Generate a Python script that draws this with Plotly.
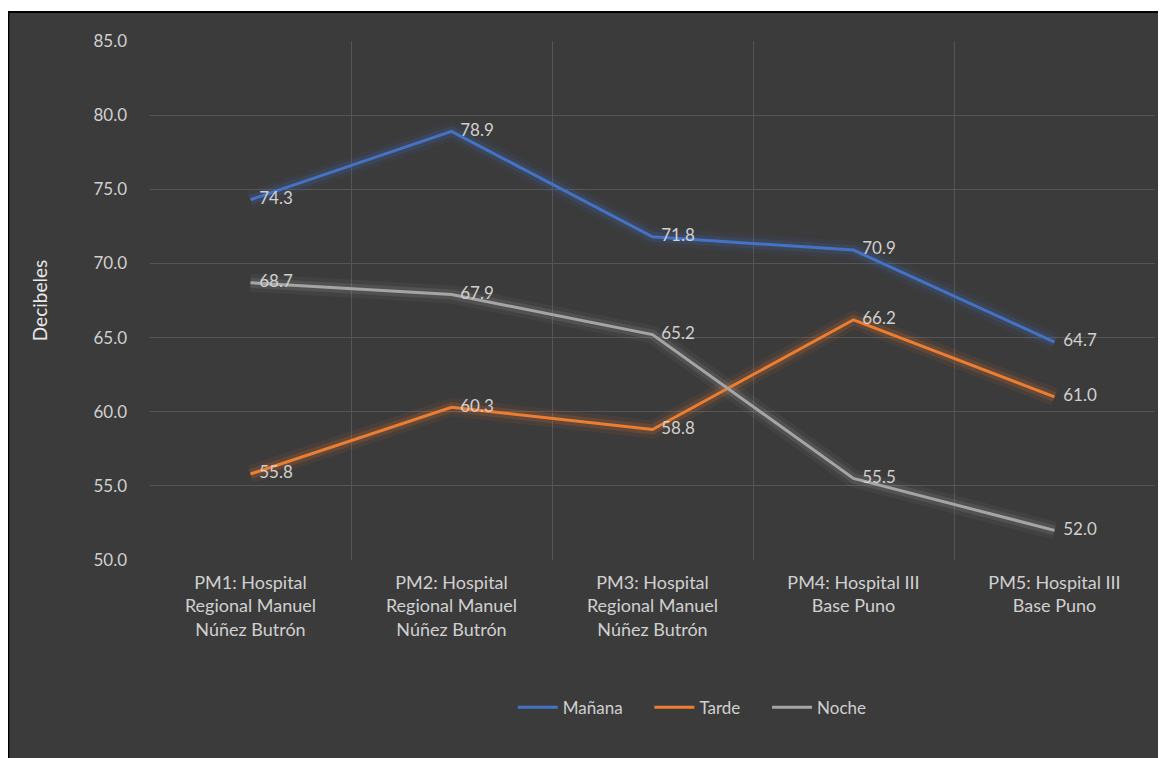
"""Niveles de ruido por punto de monitoreo y turno."""
import plotly.graph_objects as go

puntos = [
    "PM1: Hospital<br>Regional Manuel<br>Núñez Butrón",
    "PM2: Hospital<br>Regional Manuel<br>Núñez Butrón",
    "PM3: Hospital<br>Regional Manuel<br>Núñez Butrón",
    "PM4: Hospital III<br>Base Puno",
    "PM5: Hospital III<br>Base Puno",
]
manana = [74.3, 78.9, 71.8, 70.9, 64.7]
tarde = [55.8, 60.3, 58.8, 66.2, 61.0]
noche = [68.7, 67.9, 65.2, 55.5, 52.0]
y_ticks = [50, 55, 60, 65, 70, 75, 80, 85]

series = [
    ("Mañana", manana, "#4472C4"),
    ("Tarde", tarde, "#ED7D31"),
    ("Noche", noche, "#A5A5A5"),
]

BG = "#3b3b3b"
TXT = "#d0d0d0"
FONT = "Lato"
NB = "\u00a0"

x_idx = list(range(len(puntos)))
fig = go.Figure()

# soft glow under each line
for name, vals, color in series:
    for w, op in [(18, 0.07), (10, 0.15)]:
        fig.add_trace(go.Scatter(
            x=x_idx, y=vals, mode="lines", line=dict(color=color, width=w),
            opacity=op, showlegend=False, hoverinfo="skip",
        ))

for name, vals, color in series:
    fig.add_trace(go.Scatter(
        x=x_idx, y=vals, mode="lines+text", name=name + NB * 5,
        line=dict(color=color, width=3),
        text=[f"{NB * 2}{v:.1f}" for v in vals], textposition="middle right",
        textfont=dict(color=TXT, size=17, family=FONT),
    ))

# dark chart frame (page body margin is 8px, so the figure starts at 8,8)
fig.add_shape(
    type="rect", xref="paper", yref="paper", layer="below",
    x0=-0.141, x1=1.02, y0=-0.40, y1=1.0559,
    fillcolor=BG, line=dict(color="black", width=2),
)

fig.update_layout(
    width=1158, height=750,
    paper_bgcolor="white", plot_bgcolor=BG,
    margin=dict(l=142, r=11, t=33, b=198),
    font=dict(family=FONT, color=TXT, size=16),
    showlegend=True,
    legend=dict(orientation="h", x=0.55, xanchor="center", y=-0.25, yanchor="top",
                font=dict(size=17, color=TXT), bgcolor="rgba(0,0,0,0)",
                itemwidth=40, tracegroupgap=0),
    xaxis=dict(
        range=[-0.5, 4.5], tickmode="array", tickvals=x_idx, ticktext=puntos,
        showgrid=False, zeroline=False, showline=False, ticks="",
        ticklabelstandoff=10,
        tickfont=dict(size=18, color=TXT, family=FONT),
        minor=dict(tickvals=[-0.5, 0.5, 1.5, 2.5, 3.5, 4.5], showgrid=True,
                   gridcolor="#555555", gridwidth=1, ticks=""),
    ),
    yaxis=dict(
        range=[50, 85], tickmode="array", tickvals=y_ticks,
        ticktext=[f"{v:.1f}" for v in y_ticks],
        showgrid=True, gridcolor="#555555", gridwidth=1, zeroline=False,
        showline=False, ticks="", ticklabelstandoff=22,
        tickfont=dict(size=17, color=TXT, family=FONT),
        title=dict(text="Decibeles", font=dict(size=19, color="#e8e8e8", family=FONT),
                   standoff=40),
    ),
)

fig.write_html("out.html")
